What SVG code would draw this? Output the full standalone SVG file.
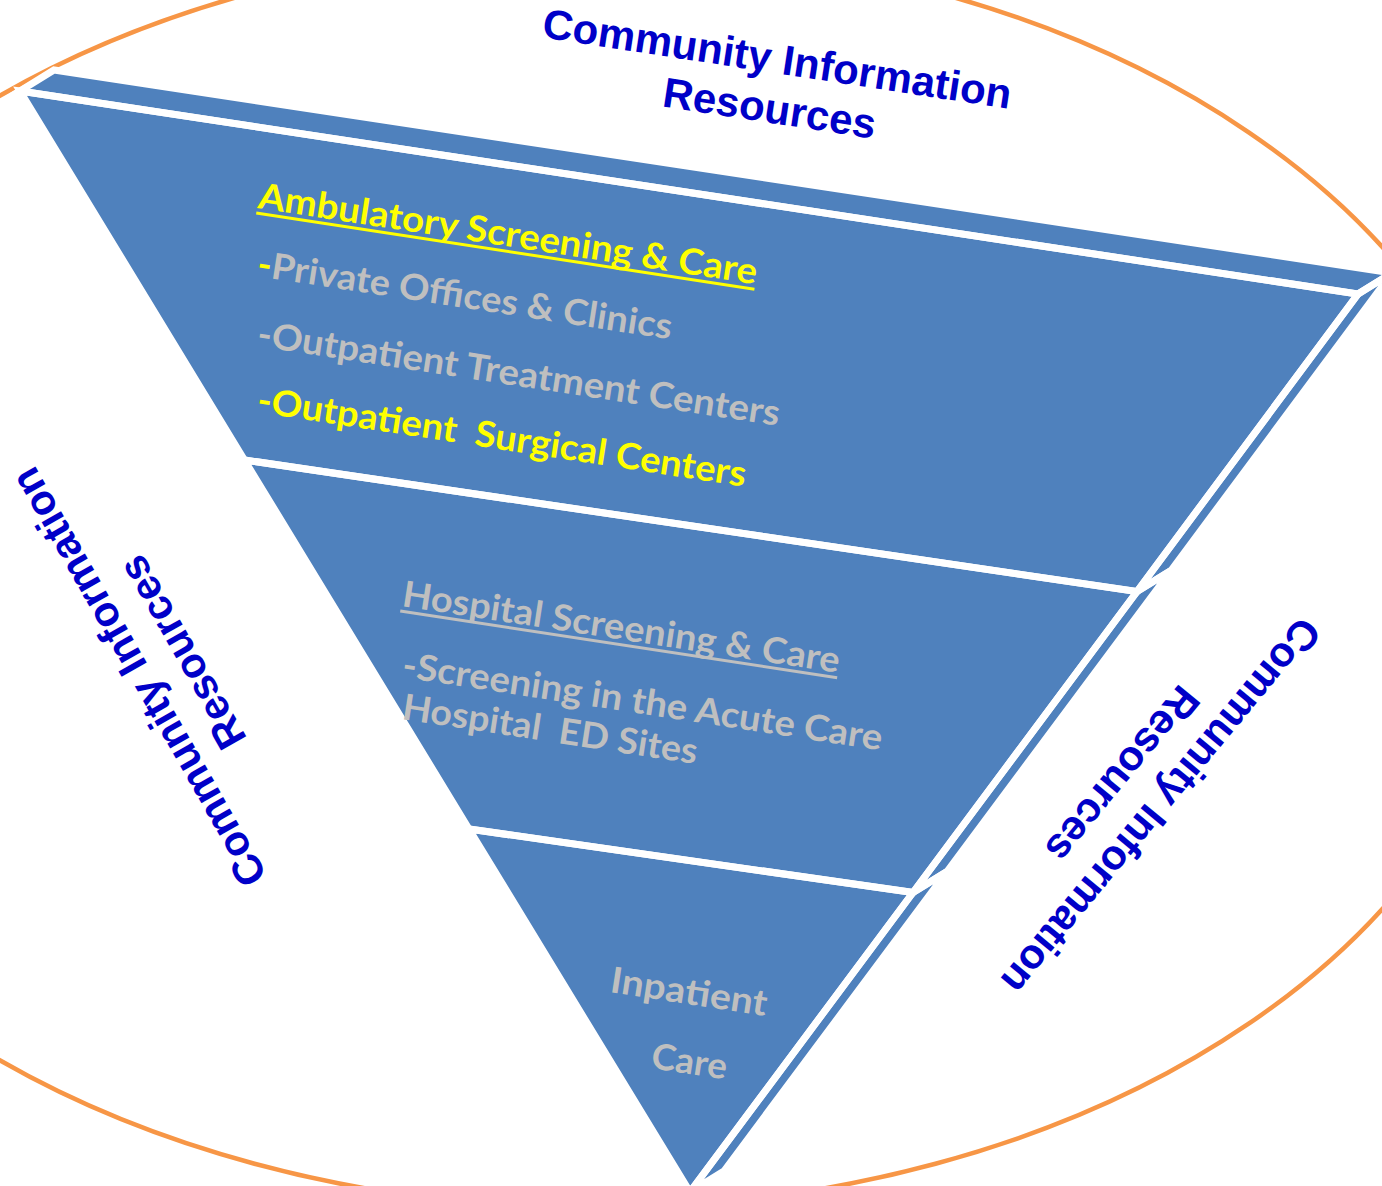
<svg xmlns="http://www.w3.org/2000/svg" xmlns:xlink="http://www.w3.org/1999/xlink" width="1382" height="1186" viewBox="0 0 1382 1186">
<style>
.bg{fill:#ffffff}
.ring{fill:none;stroke:#F79646;stroke-width:4.5}
.fill{fill:#4F81BD;stroke:none}
.edge{fill:none;stroke:#ffffff;stroke-width:7;stroke-linejoin:miter;stroke-miterlimit:4}
.lbl{font-family:"Lato","Open Sans","Liberation Sans",sans-serif;font-weight:bold;font-size:36px}
.yel{fill:#FFFF00}
.gry{fill:#BFBFBF}
.ring-lbl{font-family:"Liberation Sans",Arial,sans-serif;font-weight:bold;font-size:42px;fill:#0000C8;text-anchor:middle}
</style>
<defs>
<polygon id="p-top" points="20,91 1358,294 1392,273 54,70"/>
<polygon id="p-l1" points="20,91 1358,294 1137,591.5 244.5,460"/>
<polygon id="p-l2" points="244.5,460 1137,591.5 913,892.5 469,829"/>
<polygon id="p-l3" points="469,829 913,892.5 690,1192"/>
<polygon id="p-s1" points="1358,294 1137,591.5 1171,570.5 1392,273"/>
<polygon id="p-s2" points="1137,591.5 913,892.5 947,871.5 1171,570.5"/>
<polygon id="p-s3" points="913,892.5 690,1192 724,1171 947,871.5"/>
</defs>
<rect class="bg" x="0" y="0" width="1382" height="1186"/>
<g id="community-ring">
<ellipse class="ring" cx="595" cy="578" rx="925" ry="630"/>
</g>
<g id="pyramid-faces">
<g id="top-face"><use xlink:href="#p-top" class="fill"/></g>
<g id="side-ambulatory"><use xlink:href="#p-s1" class="fill"/></g>
<g id="side-hospital"><use xlink:href="#p-s2" class="fill"/></g>
<g id="side-inpatient"><use xlink:href="#p-s3" class="fill"/></g>
<g id="layer-ambulatory-shape"><use xlink:href="#p-l1" class="fill"/></g>
<g id="layer-hospital-shape"><use xlink:href="#p-l2" class="fill"/></g>
<g id="layer-inpatient-shape"><use xlink:href="#p-l3" class="fill"/></g>
</g>
<g id="pyramid-edges">
<use xlink:href="#p-top" class="edge"/>
<use xlink:href="#p-s1" class="edge"/>
<use xlink:href="#p-s2" class="edge"/>
<use xlink:href="#p-s3" class="edge"/>
<use xlink:href="#p-l1" class="edge"/>
<use xlink:href="#p-l2" class="edge"/>
<use xlink:href="#p-l3" class="edge"/>
</g>
<g id="connectors"></g>
<g id="layer-ambulatory">
<g transform="translate(257,208) rotate(8.7)">
<text class="lbl yel" x="0" y="0" textLength="504" lengthAdjust="spacingAndGlyphs">Ambulatory Screening &amp; Care</text>
<line x1="0" y1="5" x2="504" y2="5" stroke="#FFFF00" stroke-width="3"/>
</g>
<text class="lbl gry" transform="translate(256,276) rotate(8.7)" x="0" y="0" textLength="419" lengthAdjust="spacingAndGlyphs"><tspan class="yel">-</tspan>Private Offices &amp; Clinics</text>
<text class="lbl gry" transform="translate(256,346) rotate(8.7)" x="0" y="0" textLength="528" lengthAdjust="spacingAndGlyphs">-Outpatient Treatment Centers</text>
<text class="lbl yel" xml:space="preserve" transform="translate(256,412) rotate(8.7)" x="0" y="0" textLength="494" lengthAdjust="spacingAndGlyphs">-Outpatient  Surgical Centers</text>
</g>
<g id="layer-hospital">
<g transform="translate(401,606) rotate(8.7)">
<text class="lbl gry" x="0" y="0" textLength="442" lengthAdjust="spacingAndGlyphs">Hospital Screening &amp; Care</text>
<line x1="0" y1="5" x2="442" y2="5" stroke="#BFBFBF" stroke-width="3"/>
</g>
<text class="lbl gry" transform="translate(401,677) rotate(8.7)" x="0" y="0" textLength="485" lengthAdjust="spacingAndGlyphs">-Screening in the Acute Care</text>
<text class="lbl gry" xml:space="preserve" transform="translate(401,719) rotate(8.7)" x="0" y="0" textLength="298" lengthAdjust="spacingAndGlyphs">Hospital  ED Sites</text>
</g>
<g id="layer-inpatient">
<text class="lbl gry" transform="translate(609,992) rotate(8.7)" x="0" y="0" textLength="158" lengthAdjust="spacingAndGlyphs">Inpatient</text>
<text class="lbl gry" transform="translate(650,1068) rotate(8.7)" x="0" y="0" textLength="76" lengthAdjust="spacingAndGlyphs">Care</text>
</g>
<g id="ring-label-top" transform="translate(775,73) rotate(8.7)">
<text class="ring-lbl" x="0" y="0">Community Information</text>
<text class="ring-lbl" x="0" y="50">Resources</text>
</g>
<g id="ring-label-left" transform="translate(151,670) rotate(-119.6)">
<text class="ring-lbl" x="0" y="0">Community Information</text>
<text class="ring-lbl" x="0" y="50">Resources</text>
</g>
<g id="ring-label-right" transform="translate(1150,797) rotate(129.6)">
<text class="ring-lbl" x="0" y="0">Community Information</text>
<text class="ring-lbl" x="0" y="50">Resources</text>
</g>
</svg>
